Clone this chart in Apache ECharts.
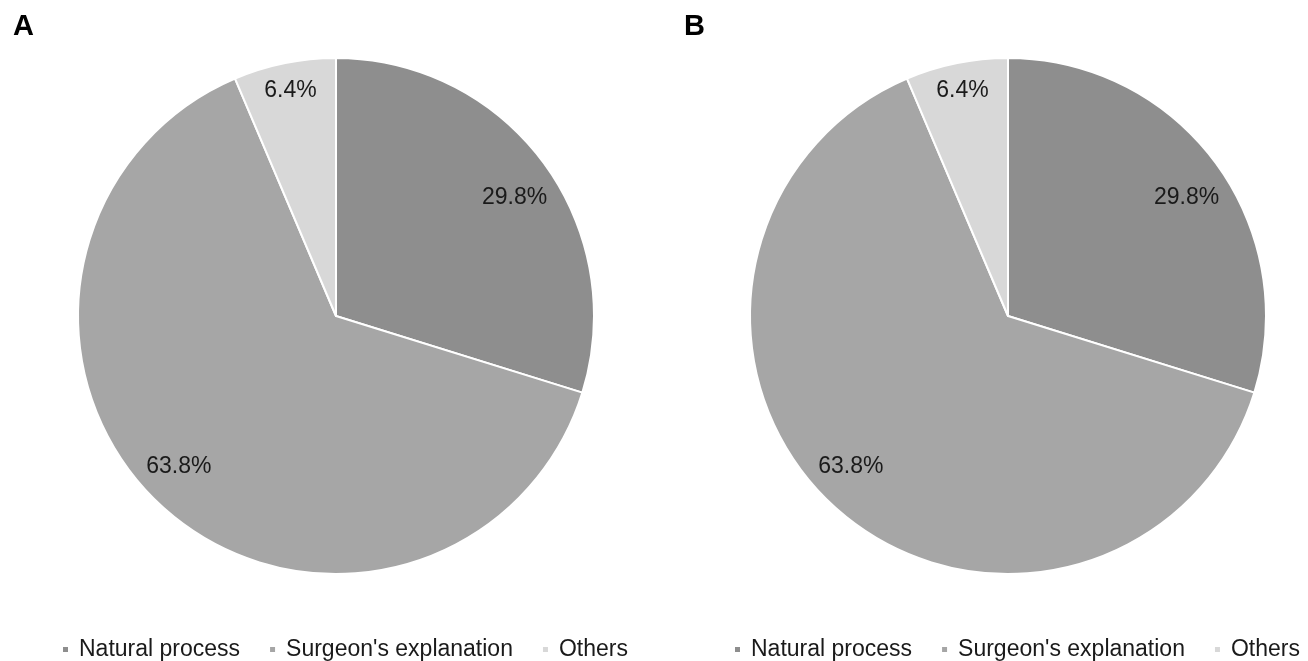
<!DOCTYPE html>
<html>
<head>
<meta charset="utf-8">
<script src="https://cdn.jsdelivr.net/npm/echarts@6/dist/echarts.min.js"></script>
<style>
  html, body { margin: 0; padding: 0; background: #ffffff; }
  #chart { width: 1308px; height: 661px; }
</style>
</head>
<body>
<div id="chart"></div>
<script>
// Reasons given, as shares of respondents (percent), for panels A and B
const categories = ['Natural process', "Surgeon's explanation", 'Others'];
const valuesA = [29.8, 63.8, 6.4];
const valuesB = [29.8, 63.8, 6.4];
const panelLabels = ['A', 'B'];

const sliceColors = ['#8e8e8e', '#a6a6a6', '#d8d8d8'];
const FONT = '"Liberation Sans", Arial, Helvetica, sans-serif';

// per-slice nudges (px) of the percentage labels from their ring position
const labelNudge = [
  { dx: 3, dy: 11 },
  { dx: -11, dy: -11 },
  { dx: -2, dy: -12 }
];

function sliceData(values) {
  return categories.map((name, i) => ({ name: name, value: values[i] }));
}

function panelSeries(values, cx) {
  return [
    {
      type: 'pie',
      center: [cx, 316],
      radius: [0, 258],
      startAngle: 90,
      clockwise: true,
      silent: true,
      animation: false,
      label: { show: false },
      labelLine: { show: false },
      itemStyle: { borderColor: '#ffffff', borderWidth: 2 },
      data: sliceData(values)
    },
    {
      // transparent ring that places the percentage labels near the rim
      type: 'pie',
      center: [cx, 316],
      radius: [172, 258],
      startAngle: 90,
      clockwise: true,
      silent: true,
      animation: false,
      legendHoverLink: false,
      itemStyle: { color: 'rgba(0,0,0,0)', borderWidth: 0 },
      label: {
        show: true,
        position: 'inside',
        formatter: p => p.value.toFixed(1) + '%',
        fontFamily: FONT,
        fontSize: 23,
        color: '#1a1a1a'
      },
      labelLayout: p => labelNudge[p.dataIndex],
      labelLine: { show: false },
      data: sliceData(values)
    }
  ];
}

const chart = echarts.init(document.getElementById('chart'), null, { renderer: 'canvas' });

const legendBase = {
  orient: 'horizontal',
  top: 633,
  icon: 'rect',
  itemWidth: 7,
  itemHeight: 7,
  itemGap: 28,
  selectedMode: false,
  textStyle: { fontFamily: FONT, fontSize: 23, color: '#1a1a1a', padding: [0, 0, 0, 5] },
  data: categories
};

chart.setOption({
  backgroundColor: '#ffffff',
  color: sliceColors,
  title: [
    { text: panelLabels[0], left: 8, top: 7,
      textStyle: { fontFamily: FONT, fontSize: 29, fontWeight: 'bold', color: '#000000' } },
    { text: panelLabels[1], left: 679, top: 7,
      textStyle: { fontFamily: FONT, fontSize: 29, fontWeight: 'bold', color: '#000000' } }
  ],
  legend: [
    Object.assign({}, legendBase, { left: 56 }),
    Object.assign({}, legendBase, { left: 728 })
  ],
  series: [].concat(panelSeries(valuesA, 336), panelSeries(valuesB, 1008))
});
</script>
</body>
</html>
